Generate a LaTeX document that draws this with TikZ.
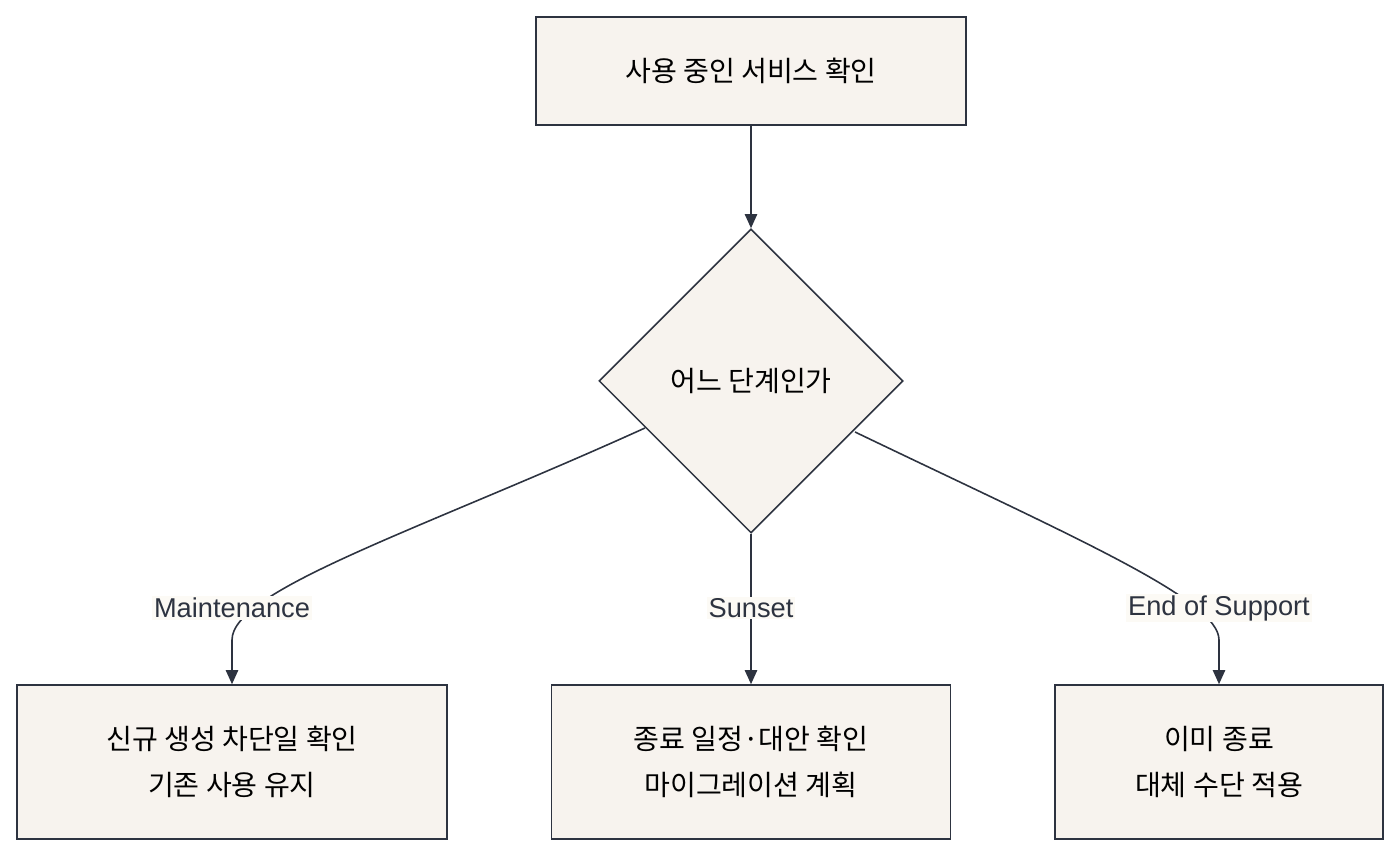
\documentclass[tikz,border=0pt]{standalone}
\usepackage{fontspec}
\setmainfont{Noto Sans CJK KR}
\newfontfamily\latfont{Liberation Sans}
\usetikzlibrary{arrows.meta}
\usetikzlibrary{positioning}
\usetikzlibrary{shapes.geometric}
\definecolor{boxfill}{HTML}{F7F3EE}
\definecolor{boxline}{HTML}{2D3340}
\definecolor{labelfill}{HTML}{FCFAF5}
\tikzset{
  box/.style={draw=boxline, fill=boxfill, line width=0.9pt, align=center,
    font=\fontsize{16}{26}\selectfont},
  decide/.style={diamond, draw=boxline, fill=boxfill, line width=0.9pt,
    minimum width=6.08cm, minimum height=6.08cm, inner sep=0pt,
    font=\fontsize{16}{26}\selectfont},
  arrow/.style={draw=boxline, line width=0.9pt, -{Triangle[length=8pt,width=7pt]}},
  lbl/.style={fill=labelfill, inner sep=1pt, font=\latfont\fontsize{15.5}{18}\selectfont, text=boxline}
}
\begin{document}
\begin{tikzpicture}[x=0.02cm, y=-0.02cm]
  \useasboundingbox (0,0) rectangle (1400,857);

  % ---------- Nodes ----------
  \node[box, minimum width=8.6cm, minimum height=2.16cm] at (751,71) (check) {사용 중인 서비스 확인};
  \node[decide] at (751,381) (stage) {어느 단계인가};
  \node[box, minimum width=8.6cm, minimum height=3.08cm] at (232,762) (maint) {신규 생성 차단일 확인\\기존 사용 유지};
  \node[box, minimum width=7.98cm, minimum height=3.08cm] at (751,762) (sunset) {종료 일정·대안 확인\\마이그레이션 계획};
  \node[box, minimum width=6.56cm, minimum height=3.08cm] at (1219,762) (eos) {이미 종료\\대체 수단 적용};

  % ---------- Connectors ----------
  \coordinate (sl) at (645,428);
  \coordinate (sr) at (855,432);
  \draw[arrow] (check) -- (stage);
  \draw[arrow] (sl) .. controls (420,530) and (232,590) .. (232,640) -- (maint.north);
  \draw[arrow] (stage.south) -- (sunset.north);
  \draw[arrow] (sr) .. controls (1080,540) and (1219,600) .. (1219,640) -- (eos.north);

  % ---------- Labels ----------
  \node[lbl] at (232,608) (lmaint) {Maintenance};
  \node[lbl] at (751,608) (lsunset) {Sunset};
  \node[lbl] at (1219,608) (leos) {End of Support};
\end{tikzpicture}
\end{document}
